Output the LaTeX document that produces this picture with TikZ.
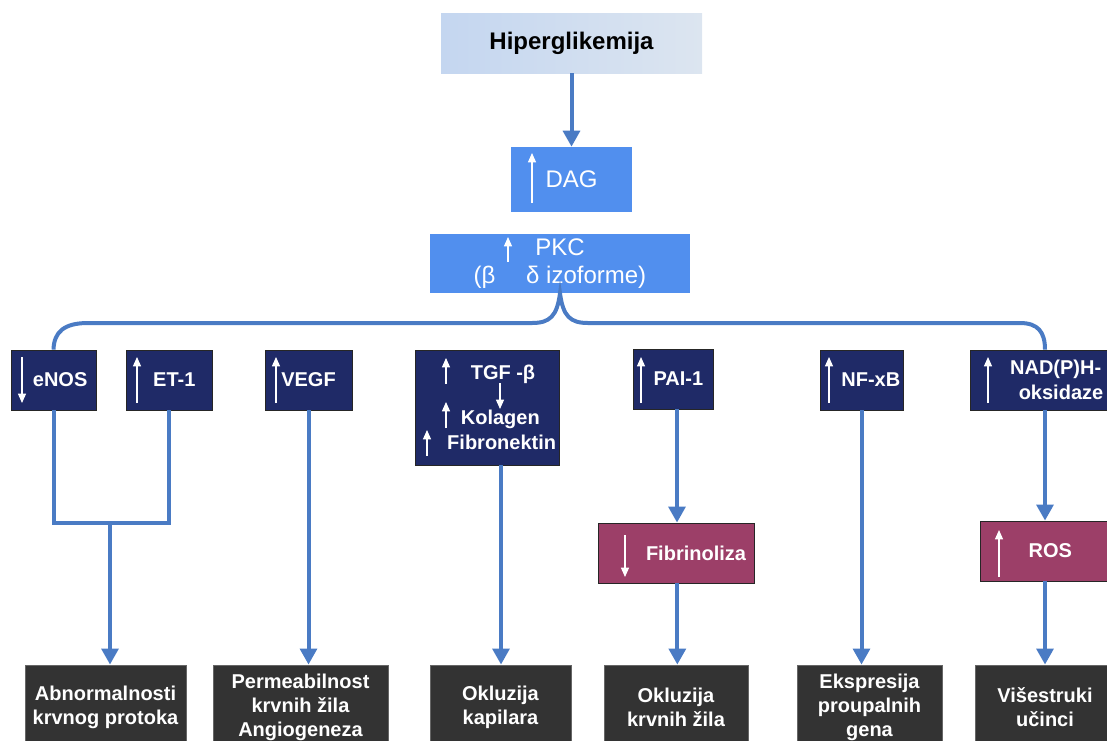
\documentclass[tikz,border=0pt]{standalone}
\usepackage{fontspec}
\setmainfont{Liberation Sans}
\usetikzlibrary{arrows.meta}

\definecolor{vezaboja}{HTML}{4A7BC4}
\definecolor{plava}{HTML}{518FEE}
\definecolor{tamnoplava}{HTML}{1F2A67}
\definecolor{ljubicasta}{HTML}{9C3F68}
\definecolor{siva}{HTML}{333333}
\definecolor{hipA}{HTML}{C4D6F0}
\definecolor{hipB}{HTML}{DCE5F0}

\tikzset{
  vel/.style 2 args={minimum width=#1*0.75pt, minimum height=#2*0.75pt},
  veza/.style={draw=vezaboja, line width=3pt, -{Triangle[width=12.5pt,length=12pt]}},
  crta/.style={draw=vezaboja, line width=3pt},
  strelica/.style={draw=white, line width=0.9pt, -{Triangle[width=6pt,length=7pt]}},
  plavi/.style={fill=plava, text=white, inner sep=0pt, align=center,
    font=\fontsize{18}{21}\selectfont},
  tamni/.style={fill=tamnoplava, draw=black!85, line width=0.6pt, text=white,
    inner sep=0pt, align=center, font=\fontsize{15}{19}\selectfont\bfseries},
  ljubicasti/.style={tamni, fill=ljubicasta},
  sivi/.style={tamni, fill=siva, draw=black!60, font=\fontsize{15}{18}\selectfont\bfseries}
}

\begin{document}
\begin{tikzpicture}[x=0.75pt,y=-0.75pt]
 \useasboundingbox (0,0) rectangle (1107,740);
 \clip (0,0) rectangle (1107,740);
 % gornji dio
 \node[vel={261}{60}, left color=hipA, right color=hipB, inner sep=0pt,
   font=\fontsize{18}{21}\selectfont\bfseries] (hip) at (571.5,43) {Hiperglikemija};
 \node[plavi, vel={121}{65}] (dag) at (571.5,179.5) {DAG};
 \node[plavi, vel={260}{59}] (pkc) at (560,263.5) {PKC\\(β\quad\ δ izoforme)};
 \draw[veza] (hip) -- (dag);
 % srednji red
 \node[tamni, vel={85}{60}] (enos) at (53.5,380) {\hspace*{10pt}eNOS};
 \node[tamni, vel={86}{60}] (et) at (169,380) {\hspace*{8pt}ET-1};
 \node[tamni, vel={87}{60}] (vegf) at (308.5,380) {VEGF};
 \node[tamni, vel={144}{115}] (tgf) at (487,407.5)
   {\hspace*{24pt}TGF -β\\[15pt]\hspace*{20pt}Kolagen\\\hspace*{22pt}Fibronektin};
 \node[tamni, vel={80}{60}] (pai) at (673,379) {\hspace*{8pt}PAI-1};
 \node[tamni, vel={83}{60}] (nfkb) at (861.5,380) {\hspace*{14pt}NF-xB};
 \node[tamni, vel={150}{60}] (nad) at (1045,380) {\hspace*{16pt}NAD(P)H-\\\hspace*{24pt}oksidaze};
 \node[ljubicasti, vel={156}{60}] (fib) at (676,553) {\hspace*{30pt}Fibrinoliza};
 \node[ljubicasti, vel={130}{60}] (ros) at (1045,551) {\hspace*{8pt}ROS};
 % donji red
 \node[sivi, vel={161}{85}] (abn) at (105.5,707.5) {Abnormalnosti\\krvnog protoka};
 \node[sivi, vel={175}{85}] (perm) at (300.5,707.5) {Permeabilnost\\krvnih žila\\Angiogeneza};
 \node[sivi, vel={141}{85}] (okap) at (500.5,707.5) {Okluzija\\kapilara};
 \node[sivi, vel={144}{85}] (ozil) at (676,707.5) {Okluzija\\krvnih žila};
 \node[sivi, vel={145}{85}] (eks) at (869.5,707.5) {Ekspresija\\proupalnih\\gena};
 \node[sivi, vel={140}{85}] (vis) at (1045,707.5) {Višestruki\\učinci};
 % vitica od PKC
 \draw[crta] (enos.north) .. controls (54,332) and (64,323) .. (88,323) -- (532,323)
   .. controls (550,323) and (557,316) .. (pkc.south)
   .. controls (563,316) and (570,323) .. (588,323) -- (1020,323)
   .. controls (1038,323) and (1045,332) .. (nad.north);
 % veze
 \coordinate (spoj) at (110,523);
 \draw[crta] (enos.south) |- (spoj) -| (et.south);
 \draw[veza] (spoj) -- (spoj |- abn.north);
 \draw[veza] (vegf.south) -- (vegf.south |- perm.north);
 \draw[veza] ([xshift=10.5]tgf.south) -- ([xshift=10.5]tgf.south |- okap.north);
 \draw[veza] ([xshift=3]pai.south) -- ([xshift=3]pai.south |- fib.north);
 \draw[veza] ([xshift=1]fib.south) -- ([xshift=1]fib.south |- ozil.north);
 \draw[veza] (nfkb.south) -- (nfkb.south |- eks.north);
 \draw[veza] (nad) -- (ros);
 \draw[veza] (ros) -- (vis);
 % strelice u okvirima
 \draw[strelica] (532,203) -- (532,153);
 \draw[strelica] (508,262) -- (508,237);
 \draw[strelica] (22,357) -- (22,403);
 \draw[strelica] (137,403) -- (137,357);
 \draw[strelica] (276,403) -- (276,357);
 \draw[strelica] (446,384) -- (446,358);
 \draw[strelica] (500,383) -- (500,409);
 \draw[strelica] (446,428) -- (446,402);
 \draw[strelica] (427,456) -- (427,430);
 \draw[strelica] (641,403) -- (641,357);
 \draw[strelica] (829,403) -- (829,357);
 \draw[strelica] (988,403) -- (988,357);
 \draw[strelica] (625,535) -- (625,577);
 \draw[strelica] (999,577) -- (999,530);
\end{tikzpicture}
\end{document}
